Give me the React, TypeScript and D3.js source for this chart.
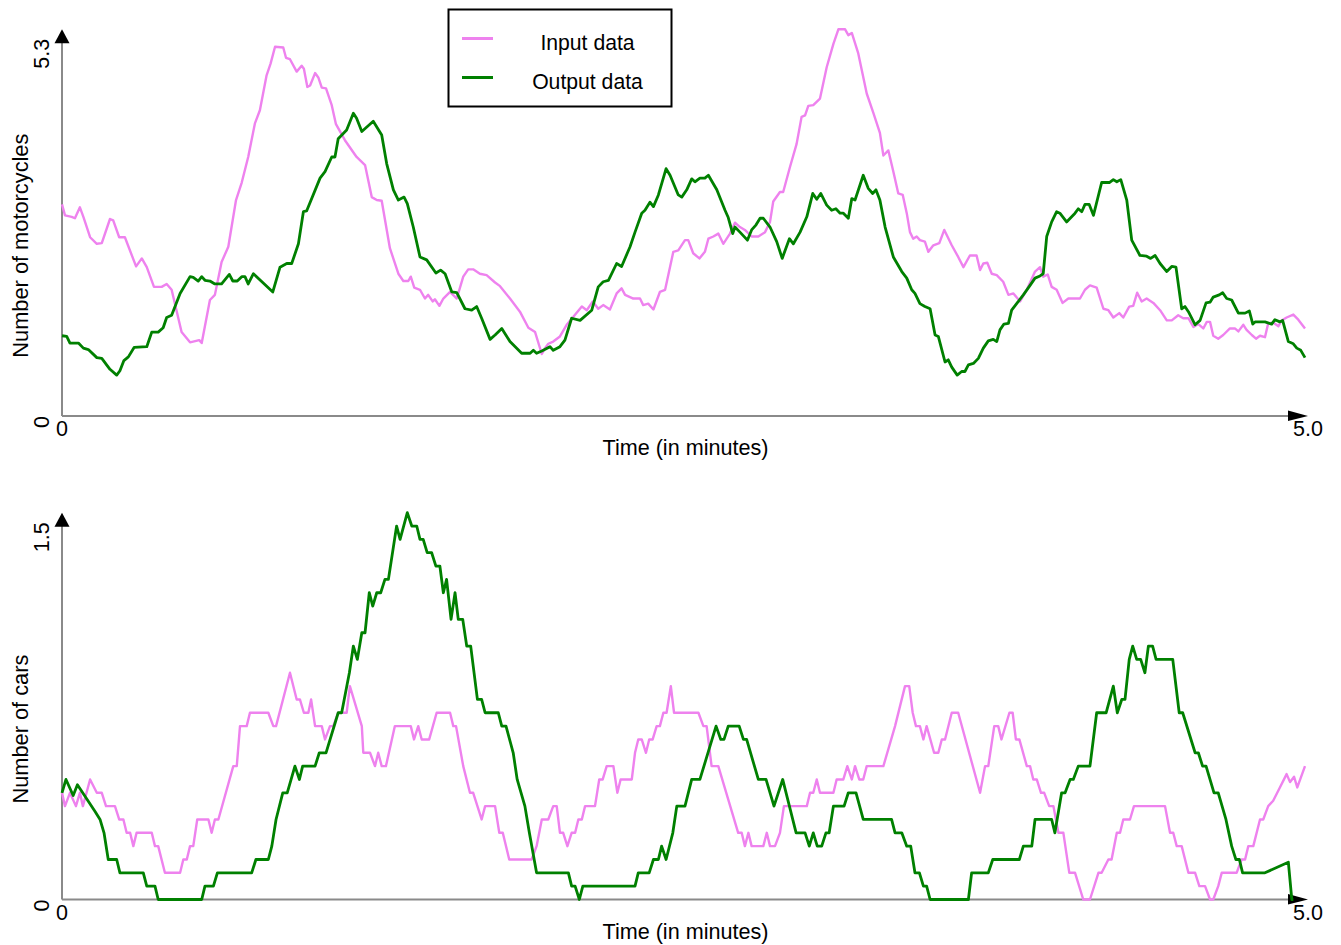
import React from "react";
import * as d3 from "d3";

type Pt = [number, number];

const timeDomain: [number, number] = [0, 5];
const xTickLabels = ["0", "5.0"];
const xAxisTitle = "Time (in minutes)";
const seriesNames = ["Input data", "Output data"];

const motoYMax = 5.3;
const motoYTickLabels = ["0", "5.3"];
const motoYTitle = "Number of motorcycles";

const carYMax = 1.45;
const carYTickLabels = ["0", "1.5"];
const carYTitle = "Number of cars";

// Motorcycles — input (pink)
const motoInput: Pt[] = [
  [0, 2.9], [0.012, 2.75], [0.039, 2.73], [0.052, 2.71], [0.072, 2.86], [0.086, 2.73], [0.113, 2.45], [0.14, 2.36],
  [0.16, 2.37], [0.193, 2.7], [0.206, 2.68], [0.23, 2.45], [0.253, 2.45], [0.298, 2.05], [0.321, 2.16], [0.341, 2.04],
  [0.37, 1.77], [0.401, 1.77], [0.421, 1.81], [0.441, 1.73], [0.481, 1.15], [0.515, 1.01], [0.552, 1.04], [0.562, 1.0],
  [0.595, 1.59], [0.615, 1.66], [0.642, 2.11], [0.669, 2.32], [0.7, 2.96], [0.723, 3.2], [0.749, 3.55], [0.776, 4.01],
  [0.796, 4.19], [0.823, 4.67], [0.839, 4.83], [0.857, 5.06], [0.89, 5.05], [0.901, 4.91], [0.917, 4.89], [0.944, 4.72],
  [0.964, 4.8], [0.973, 4.76], [0.987, 4.51], [0.998, 4.53], [1.018, 4.7], [1.031, 4.64], [1.045, 4.5], [1.062, 4.49],
  [1.085, 4.26], [1.102, 4.0], [1.138, 3.78], [1.185, 3.55], [1.219, 3.44], [1.246, 3.0], [1.266, 2.96], [1.286, 2.95],
  [1.319, 2.3], [1.353, 1.95], [1.373, 1.85], [1.393, 1.85], [1.403, 1.91], [1.417, 1.76], [1.44, 1.73], [1.46, 1.61],
  [1.473, 1.66], [1.491, 1.57], [1.5, 1.6], [1.518, 1.51], [1.534, 1.61], [1.561, 1.7], [1.588, 1.61], [1.614, 1.91],
  [1.634, 2.01], [1.654, 2.01], [1.681, 1.95], [1.708, 1.93], [1.742, 1.83], [1.762, 1.78], [1.802, 1.61], [1.842, 1.43],
  [1.876, 1.21], [1.903, 1.15], [1.93, 0.85], [1.943, 0.93], [1.956, 0.99], [1.976, 1.02], [2.003, 1.09], [2.03, 1.25],
  [2.057, 1.36], [2.091, 1.5], [2.111, 1.45], [2.135, 1.57], [2.157, 1.47], [2.177, 1.52], [2.204, 1.46], [2.231, 1.68],
  [2.251, 1.75], [2.265, 1.66], [2.298, 1.61], [2.325, 1.61], [2.338, 1.52], [2.358, 1.54], [2.379, 1.46], [2.405, 1.7],
  [2.426, 1.73], [2.459, 2.25], [2.479, 2.27], [2.506, 2.41], [2.519, 2.41], [2.539, 2.23], [2.564, 2.16], [2.586, 2.25],
  [2.6, 2.43], [2.62, 2.46], [2.64, 2.5], [2.66, 2.36], [2.687, 2.5], [2.707, 2.65], [2.727, 2.59], [2.747, 2.55],
  [2.774, 2.46], [2.801, 2.46], [2.828, 2.52], [2.848, 2.66], [2.861, 2.94], [2.888, 3.07], [2.901, 3.07], [2.928, 3.41],
  [2.955, 3.73], [2.975, 4.1], [2.989, 4.12], [3.002, 4.25], [3.022, 4.26], [3.049, 4.35], [3.076, 4.78], [3.103, 5.1],
  [3.123, 5.3], [3.15, 5.3], [3.163, 5.22], [3.177, 5.25], [3.203, 4.97], [3.237, 4.42], [3.264, 4.15], [3.29, 3.88],
  [3.304, 3.57], [3.324, 3.64], [3.344, 3.35], [3.364, 3.05], [3.382, 3.03], [3.398, 2.78], [3.411, 2.52], [3.424, 2.43],
  [3.438, 2.46], [3.451, 2.41], [3.471, 2.39], [3.485, 2.25], [3.505, 2.34], [3.529, 2.37], [3.549, 2.55], [3.579, 2.34],
  [3.605, 2.18], [3.626, 2.04], [3.652, 2.2], [3.679, 2.2], [3.693, 2.0], [3.706, 2.09], [3.722, 2.1], [3.74, 1.95],
  [3.76, 1.93], [3.786, 1.84], [3.807, 1.66], [3.827, 1.68], [3.854, 1.57], [3.881, 1.73], [3.914, 1.98], [3.934, 2.04],
  [3.947, 1.91], [3.965, 1.94], [3.981, 1.77], [4.001, 1.73], [4.025, 1.55], [4.048, 1.61], [4.095, 1.61], [4.115, 1.73],
  [4.135, 1.79], [4.162, 1.76], [4.189, 1.47], [4.209, 1.45], [4.229, 1.35], [4.253, 1.41], [4.269, 1.35], [4.293, 1.5],
  [4.309, 1.51], [4.325, 1.69], [4.343, 1.57], [4.363, 1.61], [4.39, 1.55], [4.417, 1.45], [4.444, 1.31], [4.464, 1.31],
  [4.49, 1.38], [4.51, 1.34], [4.531, 1.34], [4.551, 1.22], [4.571, 1.26], [4.591, 1.2], [4.605, 1.29], [4.618, 1.29],
  [4.631, 1.1], [4.651, 1.06], [4.671, 1.11], [4.698, 1.2], [4.718, 1.2], [4.732, 1.16], [4.752, 1.25], [4.765, 1.18],
  [4.786, 1.11], [4.803, 1.06], [4.819, 1.1], [4.839, 1.08], [4.852, 1.27], [4.872, 1.28], [4.893, 1.23], [4.906, 1.31],
  [4.926, 1.35], [4.953, 1.39], [4.973, 1.32], [5.0, 1.2],
];

// Motorcycles — output (green)
const motoOutput: Pt[] = [
  [0, 1.1], [0.019, 1.09], [0.032, 1.0], [0.066, 1.0], [0.086, 0.93], [0.106, 0.91], [0.14, 0.8], [0.16, 0.79],
  [0.193, 0.64], [0.22, 0.56], [0.233, 0.62], [0.249, 0.76], [0.267, 0.81], [0.29, 0.94], [0.341, 0.95], [0.361, 1.15],
  [0.387, 1.15], [0.407, 1.21], [0.421, 1.35], [0.441, 1.38], [0.475, 1.68], [0.515, 1.91], [0.528, 1.9], [0.548, 1.85],
  [0.562, 1.91], [0.575, 1.86], [0.595, 1.85], [0.615, 1.81], [0.642, 1.81], [0.673, 1.94], [0.687, 1.85], [0.705, 1.85],
  [0.723, 1.91], [0.736, 1.91], [0.749, 1.81], [0.77, 1.95], [0.848, 1.7], [0.877, 2.04], [0.904, 2.09], [0.924, 2.09],
  [0.951, 2.36], [0.971, 2.8], [0.984, 2.81], [1.038, 3.26], [1.058, 3.35], [1.085, 3.55], [1.098, 3.55], [1.111, 3.8],
  [1.145, 3.92], [1.172, 4.15], [1.185, 4.08], [1.206, 3.9], [1.252, 4.04], [1.286, 3.85], [1.306, 3.46], [1.333, 3.1],
  [1.353, 2.96], [1.376, 3.0], [1.389, 2.91], [1.413, 2.59], [1.44, 2.18], [1.467, 2.14], [1.504, 1.96], [1.523, 2.0],
  [1.541, 1.95], [1.568, 1.7], [1.588, 1.69], [1.621, 1.47], [1.648, 1.45], [1.668, 1.5], [1.688, 1.34], [1.722, 1.05],
  [1.742, 1.11], [1.769, 1.2], [1.802, 1.02], [1.849, 0.86], [1.883, 0.86], [1.896, 0.9], [1.909, 0.86], [1.93, 0.89],
  [1.963, 0.95], [1.976, 0.9], [2.003, 0.95], [2.023, 1.04], [2.05, 1.34], [2.084, 1.31], [2.131, 1.45], [2.157, 1.77],
  [2.177, 1.84], [2.198, 1.86], [2.231, 2.09], [2.251, 2.05], [2.285, 2.32], [2.305, 2.52], [2.332, 2.78], [2.345, 2.82],
  [2.365, 2.93], [2.379, 2.87], [2.399, 3.03], [2.43, 3.39], [2.446, 3.3], [2.479, 3.03], [2.493, 3.0], [2.513, 3.1],
  [2.533, 3.25], [2.546, 3.21], [2.566, 3.26], [2.586, 3.26], [2.6, 3.3], [2.634, 3.1], [2.667, 2.82], [2.68, 2.72],
  [2.698, 2.5], [2.707, 2.59], [2.727, 2.52], [2.757, 2.41], [2.774, 2.55], [2.792, 2.62], [2.808, 2.71], [2.821, 2.71],
  [2.848, 2.59], [2.875, 2.39], [2.897, 2.16], [2.926, 2.43], [2.942, 2.36], [2.969, 2.52], [2.996, 2.73], [3.02, 3.05],
  [3.036, 2.97], [3.052, 3.05], [3.076, 2.89], [3.096, 2.82], [3.113, 2.84], [3.13, 2.78], [3.143, 2.78], [3.163, 2.71],
  [3.177, 2.98], [3.19, 2.96], [3.223, 3.3], [3.243, 3.12], [3.261, 3.05], [3.274, 3.1], [3.29, 2.96], [3.311, 2.59],
  [3.344, 2.18], [3.378, 1.98], [3.398, 1.89], [3.418, 1.73], [3.431, 1.68], [3.451, 1.54], [3.471, 1.5], [3.492, 1.47],
  [3.512, 1.11], [3.525, 1.09], [3.552, 0.74], [3.565, 0.77], [3.579, 0.67], [3.601, 0.56], [3.619, 0.61], [3.632, 0.61],
  [3.646, 0.7], [3.666, 0.72], [3.686, 0.79], [3.706, 0.93], [3.726, 1.03], [3.746, 1.05], [3.76, 1.02], [3.773, 1.18],
  [3.789, 1.26], [3.807, 1.27], [3.82, 1.45], [3.84, 1.54], [3.867, 1.66], [3.894, 1.79], [3.914, 1.89], [3.934, 1.92],
  [3.947, 1.95], [3.961, 2.46], [3.981, 2.66], [4.001, 2.8], [4.014, 2.78], [4.041, 2.66], [4.075, 2.78], [4.088, 2.84],
  [4.102, 2.8], [4.115, 2.9], [4.132, 2.9], [4.149, 2.75], [4.182, 3.2], [4.213, 3.2], [4.229, 3.24], [4.243, 3.21],
  [4.259, 3.24], [4.283, 2.96], [4.303, 2.41], [4.336, 2.2], [4.363, 2.19], [4.379, 2.16], [4.397, 2.2], [4.417, 2.09],
  [4.444, 1.98], [4.464, 2.05], [4.481, 2.04], [4.504, 1.47], [4.517, 1.5], [4.531, 1.43], [4.558, 1.25], [4.578, 1.31],
  [4.602, 1.55], [4.618, 1.56], [4.631, 1.63], [4.655, 1.66], [4.669, 1.69], [4.685, 1.61], [4.705, 1.59], [4.732, 1.41],
  [4.759, 1.41], [4.776, 1.44], [4.79, 1.26], [4.799, 1.29], [4.839, 1.29], [4.866, 1.26], [4.879, 1.32], [4.899, 1.29],
  [4.91, 1.31], [4.933, 1.02], [4.953, 0.99], [4.967, 0.93], [4.983, 0.9], [5.0, 0.8],
];

// Cars — input (pink)
const carInput: Pt[] = [
  [0, 0.4], [0.012, 0.35], [0.032, 0.4], [0.056, 0.35], [0.072, 0.4], [0.084, 0.35], [0.113, 0.45], [0.14, 0.4],
  [0.16, 0.4], [0.177, 0.35], [0.213, 0.35], [0.23, 0.3], [0.247, 0.3], [0.26, 0.25], [0.274, 0.25], [0.287, 0.2],
  [0.3, 0.25], [0.361, 0.25], [0.374, 0.2], [0.387, 0.2], [0.414, 0.1], [0.475, 0.1], [0.488, 0.15], [0.502, 0.15],
  [0.515, 0.2], [0.528, 0.2], [0.544, 0.3], [0.589, 0.3], [0.602, 0.25], [0.615, 0.3], [0.629, 0.3], [0.689, 0.5],
  [0.703, 0.5], [0.716, 0.65], [0.743, 0.65], [0.756, 0.7], [0.83, 0.7], [0.85, 0.65], [0.861, 0.65], [0.917, 0.85],
  [0.944, 0.75], [0.957, 0.75], [0.973, 0.7], [0.991, 0.7], [1.002, 0.75], [1.018, 0.65], [1.045, 0.65], [1.058, 0.6],
  [1.078, 0.65], [1.091, 0.65], [1.111, 0.7], [1.145, 0.7], [1.158, 0.8], [1.206, 0.65], [1.212, 0.55], [1.239, 0.55],
  [1.259, 0.5], [1.272, 0.55], [1.286, 0.5], [1.303, 0.5], [1.339, 0.65], [1.403, 0.65], [1.416, 0.6], [1.433, 0.65],
  [1.447, 0.6], [1.477, 0.6], [1.507, 0.7], [1.561, 0.7], [1.574, 0.65], [1.585, 0.65], [1.614, 0.5], [1.641, 0.4],
  [1.654, 0.4], [1.688, 0.3], [1.702, 0.35], [1.742, 0.35], [1.759, 0.25], [1.773, 0.25], [1.799, 0.15], [1.889, 0.15],
  [1.909, 0.2], [1.93, 0.3], [1.956, 0.3], [1.976, 0.35], [1.99, 0.35], [2.003, 0.25], [2.016, 0.25], [2.033, 0.2],
  [2.05, 0.25], [2.064, 0.25], [2.077, 0.3], [2.091, 0.3], [2.104, 0.35], [2.144, 0.35], [2.161, 0.45], [2.175, 0.45],
  [2.191, 0.5], [2.218, 0.5], [2.234, 0.4], [2.247, 0.45], [2.292, 0.45], [2.305, 0.55], [2.318, 0.6], [2.332, 0.6],
  [2.349, 0.55], [2.362, 0.6], [2.376, 0.6], [2.392, 0.65], [2.405, 0.65], [2.419, 0.7], [2.432, 0.7], [2.449, 0.8],
  [2.462, 0.7], [2.56, 0.7], [2.58, 0.65], [2.593, 0.65], [2.613, 0.5], [2.64, 0.5], [2.72, 0.25], [2.734, 0.25],
  [2.747, 0.2], [2.761, 0.25], [2.774, 0.2], [2.821, 0.2], [2.835, 0.25], [2.848, 0.2], [2.868, 0.2], [2.888, 0.25],
  [2.904, 0.35], [2.996, 0.35], [3.009, 0.4], [3.022, 0.4], [3.036, 0.45], [3.049, 0.4], [3.103, 0.4], [3.116, 0.45],
  [3.143, 0.45], [3.159, 0.5], [3.177, 0.45], [3.19, 0.5], [3.207, 0.45], [3.223, 0.45], [3.237, 0.5], [3.304, 0.5],
  [3.351, 0.65], [3.391, 0.8], [3.408, 0.8], [3.422, 0.7], [3.435, 0.65], [3.451, 0.65], [3.465, 0.6], [3.478, 0.65],
  [3.508, 0.55], [3.525, 0.55], [3.539, 0.6], [3.552, 0.6], [3.579, 0.7], [3.605, 0.7], [3.693, 0.4], [3.713, 0.5],
  [3.726, 0.5], [3.75, 0.65], [3.766, 0.65], [3.779, 0.6], [3.811, 0.7], [3.824, 0.7], [3.837, 0.6], [3.851, 0.6],
  [3.881, 0.5], [3.894, 0.5], [3.907, 0.45], [3.921, 0.45], [3.938, 0.4], [3.951, 0.4], [3.971, 0.35], [3.988, 0.35],
  [4.008, 0.25], [4.028, 0.25], [4.052, 0.1], [4.075, 0.1], [4.108, 0.0], [4.135, 0.0], [4.169, 0.1], [4.182, 0.1],
  [4.209, 0.15], [4.222, 0.15], [4.243, 0.25], [4.256, 0.25], [4.269, 0.3], [4.296, 0.3], [4.312, 0.35], [4.437, 0.35],
  [4.457, 0.25], [4.47, 0.25], [4.484, 0.2], [4.504, 0.2], [4.531, 0.1], [4.558, 0.1], [4.575, 0.05], [4.598, 0.05],
  [4.618, 0.0], [4.631, 0.0], [4.651, 0.05], [4.665, 0.1], [4.725, 0.1], [4.745, 0.15], [4.759, 0.15], [4.772, 0.2],
  [4.792, 0.2], [4.819, 0.3], [4.832, 0.3], [4.852, 0.35], [4.872, 0.37], [4.899, 0.42], [4.926, 0.47], [4.94, 0.44],
  [4.956, 0.46], [4.969, 0.42], [5.0, 0.5],
];

// Cars — output (green)
const carOutput: Pt[] = [
  [0, 0.4], [0.016, 0.45], [0.045, 0.39], [0.062, 0.43], [0.133, 0.33], [0.153, 0.3], [0.169, 0.25], [0.186, 0.15],
  [0.22, 0.15], [0.233, 0.1], [0.327, 0.1], [0.341, 0.05], [0.374, 0.05], [0.387, 0.0], [0.562, 0.0], [0.575, 0.05],
  [0.609, 0.05], [0.625, 0.1], [0.763, 0.1], [0.78, 0.15], [0.83, 0.15], [0.844, 0.2], [0.861, 0.3], [0.888, 0.4],
  [0.906, 0.4], [0.937, 0.5], [0.955, 0.45], [0.968, 0.5], [1.018, 0.5], [1.035, 0.55], [1.062, 0.55], [1.111, 0.7],
  [1.125, 0.7], [1.156, 0.85], [1.172, 0.95], [1.188, 0.9], [1.206, 1.0], [1.219, 1.0], [1.236, 1.15], [1.25, 1.1],
  [1.266, 1.15], [1.282, 1.15], [1.299, 1.2], [1.313, 1.2], [1.346, 1.4], [1.36, 1.35], [1.389, 1.45], [1.407, 1.4],
  [1.427, 1.4], [1.44, 1.35], [1.453, 1.35], [1.469, 1.3], [1.487, 1.3], [1.504, 1.25], [1.52, 1.25], [1.534, 1.15],
  [1.547, 1.2], [1.565, 1.05], [1.581, 1.15], [1.594, 1.05], [1.612, 1.05], [1.628, 0.95], [1.644, 0.95], [1.671, 0.75],
  [1.688, 0.75], [1.702, 0.7], [1.755, 0.7], [1.769, 0.65], [1.786, 0.65], [1.815, 0.55], [1.831, 0.45], [1.862, 0.35],
  [1.88, 0.25], [1.909, 0.1], [2.037, 0.1], [2.05, 0.05], [2.064, 0.05], [2.081, 0.0], [2.095, 0.05], [2.305, 0.05],
  [2.318, 0.1], [2.362, 0.1], [2.379, 0.15], [2.399, 0.15], [2.412, 0.2], [2.43, 0.15], [2.457, 0.25], [2.473, 0.35],
  [2.506, 0.35], [2.533, 0.45], [2.566, 0.45], [2.631, 0.65], [2.65, 0.6], [2.663, 0.6], [2.68, 0.65], [2.724, 0.65],
  [2.741, 0.6], [2.754, 0.6], [2.801, 0.45], [2.832, 0.45], [2.864, 0.35], [2.899, 0.45], [2.953, 0.25], [2.989, 0.25],
  [3.006, 0.2], [3.022, 0.25], [3.038, 0.2], [3.056, 0.2], [3.073, 0.25], [3.086, 0.25], [3.103, 0.35], [3.146, 0.35],
  [3.163, 0.4], [3.194, 0.4], [3.223, 0.3], [3.337, 0.3], [3.351, 0.25], [3.378, 0.25], [3.398, 0.2], [3.414, 0.2],
  [3.431, 0.1], [3.449, 0.1], [3.465, 0.05], [3.478, 0.05], [3.492, 0.0], [3.646, 0.0], [3.659, 0.1], [3.726, 0.1],
  [3.744, 0.15], [3.851, 0.15], [3.867, 0.2], [3.901, 0.2], [3.914, 0.3], [3.981, 0.3], [3.994, 0.25], [4.021, 0.4],
  [4.035, 0.4], [4.055, 0.45], [4.068, 0.45], [4.088, 0.5], [4.135, 0.5], [4.162, 0.7], [4.2, 0.7], [4.229, 0.8],
  [4.245, 0.7], [4.263, 0.75], [4.276, 0.75], [4.293, 0.9], [4.307, 0.95], [4.323, 0.9], [4.339, 0.9], [4.356, 0.85],
  [4.37, 0.95], [4.387, 0.95], [4.401, 0.9], [4.468, 0.9], [4.494, 0.7], [4.508, 0.7], [4.558, 0.55], [4.571, 0.55],
  [4.588, 0.5], [4.602, 0.5], [4.634, 0.4], [4.651, 0.4], [4.682, 0.3], [4.705, 0.2], [4.722, 0.15], [4.736, 0.15],
  [4.749, 0.1], [4.839, 0.1], [4.933, 0.14], [4.947, 0.0], [4.953, 0.0],
];

const INPUT_COLOR = "#EE82EE";
const OUTPUT_COLOR = "#008000";
const AXIS_COLOR = "#8a8a8a";
const FONT = "'Liberation Sans', Arial, Helvetica, sans-serif";

const xScale = d3.scaleLinear().domain(timeDomain).range([62, 1305]);

type PanelProps = {
  bottomPx: number;
  topPx: number;
  yMax: number;
  yTicks: string[];
  yTitle: string;
  input: Pt[];
  output: Pt[];
};

function Panel({ bottomPx, topPx, yMax, yTicks, yTitle, input, output }: PanelProps) {
  const y = d3.scaleLinear().domain([0, yMax]).range([bottomPx, topPx]);
  const line = d3
    .line<Pt>()
    .x((d) => xScale(d[0]))
    .y((d) => y(d[1]));
  const x0 = xScale(timeDomain[0]);
  const x1 = xScale(timeDomain[1]);
  const y0 = y(0);
  const yTop = y(yMax);
  const arrowX = x1 + 3;
  const midY = (y0 + yTop) / 2 + 23;
  return (
    <g>
      {/* axes */}
      <line x1={x0} y1={y0} x2={x0} y2={yTop + 13} stroke={AXIS_COLOR} strokeWidth={2} />
      <line x1={x0} y1={y0} x2={arrowX - 18} y2={y0} stroke={AXIS_COLOR} strokeWidth={2} />
      <polygon points={`${x0},${yTop} ${x0 - 7.5},${yTop + 14} ${x0 + 7.5},${yTop + 14}`} fill="#000" />
      <polygon points={`${arrowX},${y0} ${arrowX - 20},${y0 - 5.5} ${arrowX - 20},${y0 + 5}`} fill="#000" />
      {/* data */}
      <path d={line(input) || ""} fill="none" stroke={INPUT_COLOR} strokeWidth={2.4} strokeLinejoin="round" />
      <path d={line(output) || ""} fill="none" stroke={OUTPUT_COLOR} strokeWidth={2.8} strokeLinejoin="round" />
      {/* x tick labels */}
      <text x={x0} y={y0 + 20} textAnchor="middle" fontSize={21.5} fontFamily={FONT} fill="#000">
        {xTickLabels[0]}
      </text>
      <text x={x1 + 3} y={y0 + 20} textAnchor="middle" fontSize={21.5} fontFamily={FONT} fill="#000">
        {xTickLabels[1]}
      </text>
      <text x={xScale(2.5) + 2} y={y0 + 39} textAnchor="middle" fontSize={21.6} fontFamily={FONT} fill="#000">
        {xAxisTitle}
      </text>
      {/* y tick labels (rotated) */}
      <text
        transform={`translate(48.5,${y0 + 6}) rotate(-90)`}
        textAnchor="middle"
        fontSize={21.5}
        fontFamily={FONT}
        fill="#000"
      >
        {yTicks[0]}
      </text>
      <text
        transform={`translate(48.5,${yTop + 24.5}) rotate(-90)`}
        textAnchor="middle"
        fontSize={21.5}
        fontFamily={FONT}
        fill="#000"
      >
        {yTicks[1]}
      </text>
      <text
        transform={`translate(28,${midY}) rotate(-90)`}
        textAnchor="middle"
        fontSize={21.8}
        fontFamily={FONT}
        fill="#000"
      >
        {yTitle}
      </text>
    </g>
  );
}

function Legend() {
  return (
    <g>
      <rect x={448.5} y={9.5} width={223} height={97} fill="#fff" stroke="#000" strokeWidth={2} />
      <line x1={462} y1={38.5} x2={493} y2={38.5} stroke={INPUT_COLOR} strokeWidth={3} />
      <line x1={462} y1={77.5} x2={493} y2={77.5} stroke={OUTPUT_COLOR} strokeWidth={3} />
      <text x={587.5} y={49.5} textAnchor="middle" fontSize={21.2} fontFamily={FONT} fill="#000">
        {seriesNames[0]}
      </text>
      <text x={587.5} y={88.5} textAnchor="middle" fontSize={21.2} fontFamily={FONT} fill="#000">
        {seriesNames[1]}
      </text>
    </g>
  );
}

export default function App() {
  return (
    <svg
      width={1341}
      height={945}
      viewBox="0 0 1341 945"
      style={{ position: "absolute", left: 0, top: 0, background: "#fff" }}
    >
      <rect x={0} y={0} width={1341} height={945} fill="#fff" />
      <Panel
        bottomPx={416}
        topPx={29.3}
        yMax={motoYMax}
        yTicks={motoYTickLabels}
        yTitle={motoYTitle}
        input={motoInput}
        output={motoOutput}
      />
      <Panel
        bottomPx={899.5}
        topPx={512.7}
        yMax={carYMax}
        yTicks={carYTickLabels}
        yTitle={carYTitle}
        input={carInput}
        output={carOutput}
      />
      <Legend />
    </svg>
  );
}
